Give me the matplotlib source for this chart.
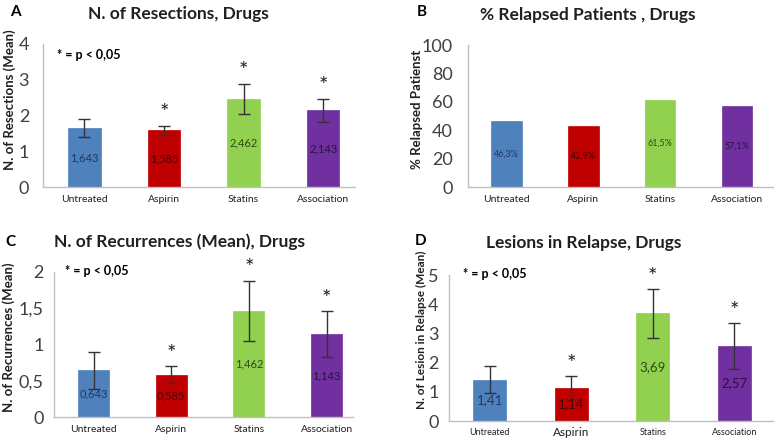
import matplotlib
matplotlib.use("Agg")
import matplotlib.pyplot as plt
import numpy as np

plt.rcParams['font.family'] = ['Lato', 'DejaVu Sans']

categories = ["Untreated", "Aspirin", "Statins", "Association"]
colors = ["#4F81BD", "#C00000", "#92D050", "#7030A0"]
text_colors = ["#1F3864", "#4A0000", "#2E4A10", "#2A0F40"]

resections = [1.643, 1.585, 2.462, 2.143]
resections_err = [0.25, 0.12, 0.42, 0.32]
resections_labels = ["1,643", "1,585", "2,462", "2,143"]
resections_sig = [False, True, True, True]

relapsed = [46.3, 42.9, 61.5, 57.1]
relapsed_labels = ["46,3%", "42,9%", "61,5%", "57,1%"]

recurrences = [0.643, 0.585, 1.462, 1.143]
recurrences_err = [0.25, 0.115, 0.42, 0.32]
recurrences_labels = ["0,643", "0,585", "1,462", "1,143"]
recurrences_sig = [False, True, True, True]

lesions = [1.41, 1.14, 3.69, 2.57]
lesions_err = [0.46, 0.40, 0.84, 0.79]
lesions_labels = ["1,41", "1,14", "3,69", "2,57"]
lesions_sig = [False, True, True, True]

W, H = 777, 438
fig = plt.figure(figsize=(W / 100, H / 100), dpi=100)


def px_axes(left, right, top, bottom):
    return fig.add_axes([left / W, 1 - bottom / H, (right - left) / W, (bottom - top) / H])


def style(ax, ylim, yticks, yticklabels, xlim, ypad, xfs=7.5):
    ax.set_ylim(*ylim)
    ax.set_xlim(*xlim)
    ax.set_yticks(yticks)
    ax.set_yticklabels(yticklabels, fontsize=13, color="#404040")
    ax.set_xticks(range(len(categories)))
    ax.set_xticklabels(categories, fontsize=xfs, color="#202020", va="center")
    ax.tick_params(axis='x', length=0, pad=9)
    ax.tick_params(axis='y', length=0, pad=ypad)
    for s in ["top", "right"]:
        ax.spines[s].set_visible(False)
    for s in ["left", "bottom"]:
        ax.spines[s].set_color("#BFBFBF")
        ax.spines[s].set_linewidth(1.0)


def ylab(text, xc, yc, fs):
    fig.text(xc / W, 1 - yc / H, text, rotation=90, ha="center", va="center",
             fontsize=fs, fontweight="bold", color="#202020")


def draw(ax, vals, errs, labels, sig, width, star_off, label_fs=8):
    x = np.arange(len(vals))
    ax.bar(x, vals, width=width, color=colors, edgecolor=colors, linewidth=0.5)
    if errs is not None:
        ax.errorbar(x, vals, yerr=errs, fmt="none", ecolor="#333333", elinewidth=1.0, capsize=4, capthick=1.0)
    for i, v in enumerate(vals):
        ax.text(x[i], v / 2, labels[i], ha="center", va="center", fontsize=label_fs, color=text_colors[i])
        if sig is not None and sig[i]:
            top = v + (errs[i] if errs is not None else 0)
            ax.text(x[i], top + star_off, "*", ha="center", va="center", fontsize=16, color="#202020")


# Panel A
axA = px_axes(43, 355, 44, 187)
draw(axA, resections, resections_err, resections_labels, resections_sig, 0.41, 0.36)
style(axA, (0, 4), [0, 1, 2, 3, 4], ["0", "1", "2", "3", "4"], (-0.52, 3.4), 10)
ylab("N. of Resections (Mean)", 10, 100, 9.5)
fig.text(178 / W, 1 - 14 / H, "N. of Resections, Drugs", ha="center", va="center", fontsize=12.5, fontweight="bold", color="#202020")
fig.text(10 / W, 1 - 12 / H, "A", ha="left", va="center", fontsize=11, fontweight="bold")
fig.text(57 / W, 1 - 55 / H, "* = p < 0,05", ha="left", va="center", fontsize=9, fontweight="bold")

# Panel B
axB = px_axes(468, 773, 45, 187)
draw(axB, relapsed, None, relapsed_labels, None, 0.40, 0, label_fs=6.5)
style(axB, (0, 100), [0, 20, 40, 60, 80, 100], ["0", "20", "40", "60", "80", "100"], (-0.5, 3.47), 11)
ylab("% Relapsed Patienst", 417, 109, 9.5)
fig.text(588 / W, 1 - 15 / H, "% Relapsed Patients , Drugs", ha="center", va="center", fontsize=12.5, fontweight="bold", color="#202020")
fig.text(417 / W, 1 - 12 / H, "B", ha="left", va="center", fontsize=11, fontweight="bold")

# Panel C
axC = px_axes(54, 353, 272, 417)
draw(axC, recurrences, recurrences_err, recurrences_labels, recurrences_sig, 0.40, 0.17)
style(axC, (0, 2), [0, 0.5, 1, 1.5, 2], ["0", "0,5", "1", "1,5", "2"], (-0.51, 3.34), 7.5)
ylab("N. of Recurrences (Mean)", 9, 337, 9.5)
fig.text(179 / W, 1 - 242 / H, "N. of Recurrences (Mean), Drugs", ha="center", va="center", fontsize=12.5, fontweight="bold", color="#202020")
fig.text(5 / W, 1 - 242 / H, "C", ha="left", va="center", fontsize=11, fontweight="bold")
fig.text(65 / W, 1 - 271 / H, "* = p < 0,05", ha="left", va="center", fontsize=9, fontweight="bold")

# Panel D
axD = px_axes(449, 773, 275, 421)
draw(axD, lesions, lesions_err, lesions_labels, lesions_sig, 0.40, 0.40, label_fs=9.5)
style(axD, (0, 5), [0, 1, 2, 3, 4, 5], ["0", "1", "2", "3", "4", "5"], (-0.5, 3.475), 7.5, xfs=6.5)
axD.tick_params(axis='x', pad=8)
axD.get_xticklabels()[1].set_fontsize(8.5)
ylab("N. of Lesion in Relapse (Mean)", 421.5, 330, 8.5)
fig.text(584 / W, 1 - 243 / H, "Lesions in Relapse, Drugs", ha="center", va="center", fontsize=12.5, fontweight="bold", color="#202020")
fig.text(415 / W, 1 - 241 / H, "D", ha="left", va="center", fontsize=11, fontweight="bold")
fig.text(463 / W, 1 - 274 / H, "* = p < 0,05", ha="left", va="center", fontsize=9, fontweight="bold")

fig.savefig("out.png", dpi=100, facecolor="white")
